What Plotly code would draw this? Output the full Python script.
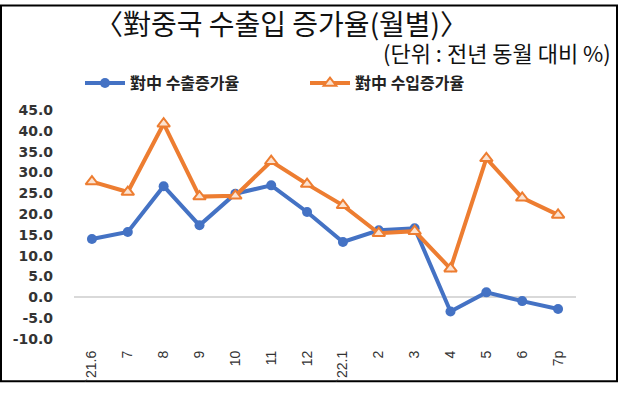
import plotly.graph_objects as go

labels = ["`21.6", "7", "8", "9", "10", "11", "12", "`22.1", "2", "3", "4", "5", "6", "7p"]
export_growth = [14.0, 15.7, 26.7, 17.3, 24.9, 26.9, 20.5, 13.3, 16.1, 16.6, -3.4, 1.2, -0.9, -2.8]
import_growth = [27.8, 25.3, 41.7, 24.2, 24.4, 32.7, 27.2, 22.1, 15.4, 15.9, 6.9, 33.4, 23.9, 19.8]
y_ticks = [45, 40, 35, 30, 25, 20, 15, 10, 5, 0, -5, -10]
export_name = "對中 수출증가율"
import_name = "對中 수입증가율"
title_text = "〈對중국 수출입 증가율(월별)〉"
unit_text = "(단위 : 전년 동월 대비 %)"

W, H = 619, 395
L, R, T, B = 74, 43, 110, 46
pw, ph = W - L - R, H - T - B

def px_x(p):
    return (p - L) / pw

def px_y(p):
    return (H - B - p) / ph

xs = list(range(len(labels)))

fig = go.Figure()
fig.add_trace(go.Scatter(
    x=xs, y=export_growth, name=export_name, mode="lines+markers",
    line=dict(color="#4472C4", width=4),
    marker=dict(symbol="circle", size=10, color="#4472C4"),
))
fig.add_trace(go.Scatter(
    x=xs, y=import_growth, name=import_name, mode="lines+markers",
    line=dict(color="#ED7D31", width=4),
    marker=dict(symbol="triangle-up", size=11, color="#FBE3D2",
                line=dict(color="#ED7D31", width=2)),
))

fig.update_layout(
    width=W, height=H,
    margin=dict(l=L, r=R, t=T, b=B, pad=0),
    paper_bgcolor="white", plot_bgcolor="white",
    showlegend=True,
    legend=dict(orientation="h", x=px_x(80), y=px_y(82), xanchor="left", yanchor="middle",
                font=dict(family="Noto Sans CJK KR", size=16, color="#222", weight="bold"),
                itemwidth=40, tracegroupgap=0, bgcolor="rgba(0,0,0,0)",
                entrywidth=170),
    xaxis=dict(range=[-0.5, len(labels) - 0.5], tickmode="array", tickvals=xs, ticktext=labels,
               tickangle=-90, showgrid=False, zeroline=False, showline=False, ticks="",
               tickfont=dict(family="Liberation Sans", size=14, color="#333"),
               ticklabelstandoff=8),
    yaxis=dict(range=[-10, 45], tickmode="array", tickvals=y_ticks,
               ticktext=[f"{v:.1f}" for v in y_ticks],
               showgrid=False, zeroline=True, zerolinecolor="#D9D9D9", zerolinewidth=2,
               showline=False, ticks="",
               tickfont=dict(family="DejaVu Sans", size=14, color="#333", weight="bold"),
               ticklabelstandoff=20),
    annotations=[
        dict(text=title_text, xref="paper", yref="paper", x=px_x(281), y=px_y(19),
             xanchor="center", yanchor="middle", showarrow=False,
             font=dict(family="Noto Sans CJK KR", size=28, color="#111")),
        dict(text=unit_text, xref="paper", yref="paper", x=px_x(613), y=px_y(49),
             xanchor="right", yanchor="middle", showarrow=False,
             font=dict(family="Noto Sans CJK KR", size=22, color="#111")),
    ],
    shapes=[
        dict(type="rect", xref="paper", yref="paper", x0=px_x(1), x1=px_x(617),
             y0=px_y(393), y1=px_y(1), line=dict(color="black", width=2),
             fillcolor="rgba(0,0,0,0)", layer="below"),
    ],
)

fig.write_html("out.html", config={"displayModeBar": False},
               post_script="document.body.style.margin='0';document.body.style.overflow='hidden';")
